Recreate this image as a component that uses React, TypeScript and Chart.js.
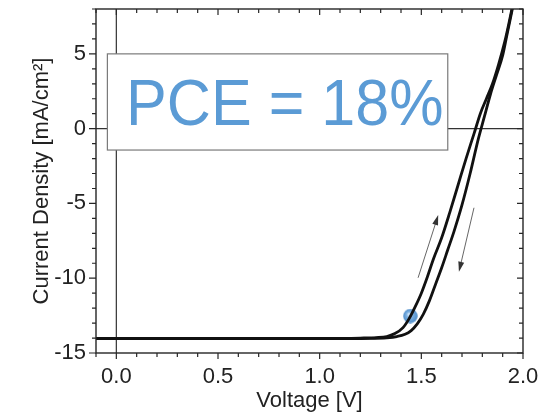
import React, { useEffect, useRef } from "react";
import { Chart, registerables } from "chart.js";

Chart.register(...registerables);

// ---- axes ----
const xRange = [-0.1, 2.0];
const yRange = [-15, 8];
const xTickValues = [0, 0.5, 1.0, 1.5, 2.0];
const yTickValues = [-15, -10, -5, 0, 5];
const xTitle = "Voltage [V]";
const yTitle = "Current Density [mA/cm²]";

// ---- J-V curves ----
const forwardV = [-0.1, 0.5, 1.0, 1.2, 1.28, 1.33, 1.37, 1.41, 1.44, 1.47, 1.5, 1.53, 1.56, 1.6, 1.64, 1.68, 1.72, 1.76, 1.79, 1.82, 1.85, 1.88, 1.91, 1.93, 1.95];
const forwardJ = [-14.02, -14.02, -14.02, -14.0, -13.97, -13.9, -13.7, -13.3, -12.7, -11.9, -11.0, -9.9, -8.7, -7.3, -5.6, -3.8, -2.0, -0.3, 1.0, 2.0, 3.0, 4.3, 5.8, 7.0, 8.3];
const reverseV = [-0.1, 0.5, 1.0, 1.25, 1.33, 1.38, 1.42, 1.45, 1.48, 1.51, 1.54, 1.57, 1.6, 1.63, 1.66, 1.7, 1.74, 1.78, 1.81, 1.84, 1.87, 1.9, 1.92, 1.94, 1.955];
const reverseJ = [-14.04, -14.04, -14.04, -14.02, -13.98, -13.9, -13.75, -13.5, -13.05, -12.4, -11.5, -10.4, -9.3, -8.1, -6.9, -5.1, -3.0, -0.7, 0.8, 2.3, 3.6, 4.9, 6.2, 7.5, 8.5];

// ---- marker (blue sphere) ----
const markerV = [1.446];
const markerJ = [-12.53];

// ---- scan direction arrows (tail -> head) ----
const arrowUpV = [1.484, 1.583];
const arrowUpJ = [-9.97, -5.78];
const arrowDownV = [1.759, 1.685];
const arrowDownJ = [-5.29, -9.57];

// ---- PCE label ----
const pceLabel = "PCE = 18%";
const pceBoxV = [-0.044, 1.63];
const pceBoxJ = [-1.43, 5.0];
const pceTextV = [0.048, 1.609];
const pceTextJ = [0.24];

const FONT = '"Liberation Sans", Arial, Helvetica, sans-serif';
const BLUE = "rgb(91,155,213)";
const AXIS = "#262626";

function makeSphere(): HTMLCanvasElement {
  const c = document.createElement("canvas");
  const s = 15;
  c.width = s;
  c.height = s;
  const g = c.getContext("2d")!;
  const grad = g.createRadialGradient(s * 0.4, s * 0.38, 0.5, s / 2, s / 2, s / 2);
  grad.addColorStop(0, "#d6e8f8");
  grad.addColorStop(0.35, "#7fb2e2");
  grad.addColorStop(1, "#4a8ac8");
  g.fillStyle = grad;
  g.beginPath();
  g.arc(s / 2, s / 2, s / 2 - 0.3, 0, Math.PI * 2);
  g.fill();
  return c;
}

function drawArrow(ctx: CanvasRenderingContext2D, x1: number, y1: number, x2: number, y2: number) {
  const ang = Math.atan2(y2 - y1, x2 - x1);
  const hl = 10;
  const hw = 3;
  const c = Math.cos(ang);
  const s = Math.sin(ang);
  ctx.beginPath();
  ctx.moveTo(x1, y1);
  ctx.lineTo(x2 - c * hl * 0.6, y2 - s * hl * 0.6);
  ctx.stroke();
  ctx.beginPath();
  ctx.moveTo(x2, y2);
  ctx.lineTo(x2 - c * hl + s * hw, y2 - s * hl - c * hw);
  ctx.lineTo(x2 - c * hl - s * hw, y2 - s * hl + c * hw);
  ctx.closePath();
  ctx.fill();
}

const decoPlugin = {
  id: "deco",
  beforeDatasetsDraw(chart: any) {
    const { ctx, chartArea: a, scales } = chart;
    const x = scales.x;
    const y = scales.y;
    ctx.save();
    ctx.strokeStyle = "#333";
    ctx.lineWidth = 1.2;
    const px0 = x.getPixelForValue(0);
    const py0 = y.getPixelForValue(0);
    ctx.beginPath();
    ctx.moveTo(px0, a.top);
    ctx.lineTo(px0, a.bottom);
    ctx.moveTo(a.left, py0);
    ctx.lineTo(a.right, py0);
    ctx.stroke();
    ctx.restore();
  },
  afterDatasetsDraw(chart: any) {
    const { ctx, chartArea: a, scales } = chart;
    const x = scales.x;
    const y = scales.y;
    ctx.save();

    // PCE box
    const bx1 = x.getPixelForValue(pceBoxV[0]);
    const bx2 = x.getPixelForValue(pceBoxV[1]);
    const by1 = y.getPixelForValue(pceBoxJ[1]);
    const by2 = y.getPixelForValue(pceBoxJ[0]);
    ctx.fillStyle = "#ffffff";
    ctx.fillRect(bx1, by1, bx2 - bx1, by2 - by1);
    ctx.strokeStyle = "#7a7a7a";
    ctx.lineWidth = 1.2;
    ctx.strokeRect(bx1, by1, bx2 - bx1, by2 - by1);

    // PCE text
    ctx.font = `64px ${FONT}`;
    ctx.fillStyle = BLUE;
    ctx.textAlign = "left";
    ctx.textBaseline = "alphabetic";
    const tx1 = x.getPixelForValue(pceTextV[0]);
    const tx2 = x.getPixelForValue(pceTextV[1]);
    const ty = y.getPixelForValue(pceTextJ[0]);
    const w = ctx.measureText(pceLabel).width;
    ctx.save();
    ctx.translate(tx1, ty);
    ctx.scale((tx2 - tx1) / w, 1);
    ctx.fillText(pceLabel, 0, 0);
    ctx.restore();

    // arrows
    ctx.strokeStyle = "#555";
    ctx.fillStyle = "#333";
    ctx.lineWidth = 0.9;
    drawArrow(ctx, x.getPixelForValue(arrowUpV[0]), y.getPixelForValue(arrowUpJ[0]), x.getPixelForValue(arrowUpV[1]), y.getPixelForValue(arrowUpJ[1]));
    drawArrow(ctx, x.getPixelForValue(arrowDownV[0]), y.getPixelForValue(arrowDownJ[0]), x.getPixelForValue(arrowDownV[1]), y.getPixelForValue(arrowDownJ[1]));

    // frame
    ctx.strokeStyle = AXIS;
    ctx.lineWidth = 1.4;
    ctx.strokeRect(a.left, a.top, a.right - a.left, a.bottom - a.top);

    // ticks
    ctx.lineWidth = 1.2;
    ctx.beginPath();
    for (let i = Math.round(xRange[0] * 10); i <= Math.round(xRange[1] * 10); i++) {
      const px = x.getPixelForValue(i / 10);
      const major = i % 5 === 0;
      ctx.moveTo(px, a.bottom);
      ctx.lineTo(px, a.bottom + (major ? 6 : 4));
      ctx.moveTo(px, a.top);
      ctx.lineTo(px, a.top + (major ? 6 : 4));
    }
    for (let j = yRange[0]; j <= yRange[1]; j++) {
      const py = y.getPixelForValue(j);
      const major = j % 5 === 0;
      ctx.moveTo(a.left, py);
      ctx.lineTo(a.left - (major ? 7 : 4), py);
      ctx.moveTo(a.right, py);
      ctx.lineTo(a.right - (major ? 6 : 4), py);
    }
    ctx.stroke();
    ctx.restore();
  },
};

export default function App() {
  const ref = useRef<HTMLCanvasElement | null>(null);

  useEffect(() => {
    if (!ref.current) return;
    Chart.defaults.font.family = FONT;
    const sphere = makeSphere();
    const chart = new Chart(ref.current, {
      type: "line",
      data: {
        datasets: [
          {
            label: "forward",
            data: forwardV.map((v, i) => ({ x: v, y: forwardJ[i] })),
            borderColor: "#111",
            borderWidth: 2.8,
            pointRadius: 0,
            cubicInterpolationMode: "monotone",
            fill: false,
          },
          {
            label: "reverse",
            data: reverseV.map((v, i) => ({ x: v, y: reverseJ[i] })),
            borderColor: "#111",
            borderWidth: 2.8,
            pointRadius: 0,
            cubicInterpolationMode: "monotone",
            fill: false,
          },
          {
            label: "marker",
            data: markerV.map((v, i) => ({ x: v, y: markerJ[i] })),
            showLine: false,
            pointStyle: sphere as any,
            pointRadius: 7,
            backgroundColor: BLUE,
            borderWidth: 0,
          },
        ],
      },
      options: {
        animation: false,
        responsive: true,
        maintainAspectRatio: false,
        layout: { padding: { top: 9, right: 30, left: 0, bottom: 0 } },
        plugins: { legend: { display: false }, tooltip: { enabled: false } },
        events: [],
        scales: {
          x: {
            type: "linear",
            min: xRange[0],
            max: xRange[1],
            afterBuildTicks: (axis: any) => {
              axis.ticks = xTickValues.map((v) => ({ value: v }));
            },
            afterFit: (scale: any) => {
              scale.height = 61;
              scale.paddingLeft = 0;
              scale.paddingRight = 0;
            },
            grid: { display: false, drawTicks: false, tickLength: 0 },
            border: { display: false },
            ticks: {
              padding: 11,
              color: "#222",
              font: { size: 22 },
              maxRotation: 0,
              autoSkip: false,
              callback: (v: any) => Number(v).toFixed(1),
            },
            title: {
              display: true,
              text: xTitle,
              color: "#222",
              font: { size: 22 },
              padding: { top: 1, bottom: 0 },
            },
          },
          y: {
            type: "linear",
            min: yRange[0],
            max: yRange[1],
            afterBuildTicks: (axis: any) => {
              axis.ticks = yTickValues.map((v) => ({ value: v }));
            },
            afterFit: (scale: any) => {
              scale.width = 96;
              scale.paddingTop = 0;
              scale.paddingBottom = 0;
            },
            grid: { display: false, drawTicks: false, tickLength: 0 },
            border: { display: false },
            ticks: {
              padding: 10,
              color: "#222",
              font: { size: 22 },
              autoSkip: false,
              callback: (v: any) => String(v),
            },
            title: {
              display: true,
              text: yTitle,
              color: "#222",
              font: { size: 22 },
              padding: { top: 29, bottom: 0 },
            },
          },
        },
      },
      plugins: [decoPlugin],
    } as any);
    return () => chart.destroy();
  }, []);

  return (
    <div style={{ position: "absolute", left: 0, top: 0, width: 553, height: 414, background: "#fff" }}>
      <canvas ref={ref} />
    </div>
  );
}
